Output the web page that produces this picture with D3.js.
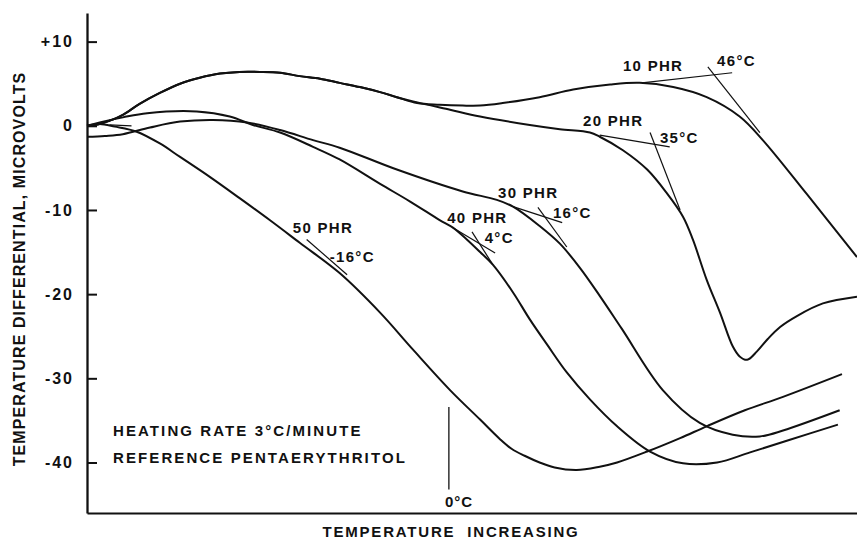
<!DOCTYPE html>
<html>
<head>
<meta charset="utf-8">
<script src="https://cdn.jsdelivr.net/npm/d3@7"></script>
<style>
  html, body { margin: 0; padding: 0; background: #fff; }
  svg { display: block; }
  text { font-family: "Liberation Sans", Arial, sans-serif; font-weight: bold; fill: #111; }
</style>
</head>
<body>
<svg id="chart" width="857" height="541"></svg>
<script>
// DTA traces: [temperature (°C), temperature differential (µV)]
const phr10 = [
  [-62.6, 0], [-60.4, 0.2], [-58.7, 0.6], [-56.4, 1.3], [-53.5, 2.6], [-50.0, 3.9],
  [-46.5, 5.0], [-43.1, 5.7], [-39.6, 6.2], [-36.2, 6.4], [-32.7, 6.4], [-29.2, 6.3],
  [-25.8, 5.9], [-22.3, 5.6], [-18.9, 5.1], [-15.4, 4.6], [-11.9, 4.0], [-9.0, 3.4],
  [-5.5, 2.7], [-1.6, 2.5], [2.4, 2.4], [5.4, 2.4], [9.3, 2.7], [15.7, 3.4],
  [21.5, 4.3], [27.9, 4.9], [33.0, 5.1], [38.8, 4.6], [44.6, 3.4], [50.3, 1.1],
  [54.3, -1.7], [61.9, -8.1], [70.6, -15.6]
];
const phr20 = [
  [-62.6, 0], [-60.4, 0.2], [-58.7, 0.6], [-56.4, 1.3], [-53.5, 2.6], [-50.0, 3.9],
  [-46.5, 5.0], [-43.1, 5.7], [-39.6, 6.2], [-36.2, 6.4], [-32.7, 6.4], [-29.2, 6.3],
  [-25.8, 5.9], [-22.3, 5.6], [-18.9, 5.1], [-15.4, 4.6], [-11.9, 4.0], [-9.0, 3.4],
  [-6.2, 2.9], [0.2, 1.9], [5.4, 1.1], [14.0, 0.1], [19.2, -0.4], [24.4, -0.8],
  [26.1, -1.3], [30.1, -2.9], [34.3, -5.2], [37.7, -8.0], [40.5, -10.8], [42.2, -13.5],
  [44.6, -18.3], [46.9, -22.2], [49.1, -26.2], [50.3, -27.4], [51.6, -27.8], [53.3, -26.8],
  [55.2, -25.3], [57.3, -23.9], [60.2, -22.6], [64.7, -21.1], [70.6, -20.3]
];
const phr30 = [
  [-62.6, -1.3], [-59.5, -1.2], [-56.4, -1.0], [-51.7, -0.2], [-46.5, 0.5], [-40.8, 0.7],
  [-34.9, 0.4], [-29.2, -0.5], [-23.5, -1.7], [-18.9, -2.6], [-9.0, -5.2], [2.4, -7.8],
  [8.3, -8.8], [11.1, -9.6], [15.7, -11.9], [19.2, -14.0], [22.7, -16.9], [26.1, -20.2],
  [29.9, -24.1], [37.0, -31.4], [43.4, -35.3], [49.1, -36.7], [53.8, -36.9], [57.8, -36.2],
  [67.6, -33.8]
];
const phr40 = [
  [-62.6, 0], [-60.4, 0.4], [-56.4, 1.0], [-52.2, 1.5], [-43.6, 1.7], [-37.9, 1.1],
  [-33.9, 0.1], [-29.2, -0.8], [-23.5, -2.5], [-18.9, -4.0], [-11.9, -6.9], [-6.7, -9.0],
  [-1.6, -11.2], [0.7, -12.1], [3.1, -13.5], [5.4, -15.0], [7.6, -16.5], [11.1, -19.8],
  [14.0, -23.0], [17.0, -26.0], [20.4, -29.3], [24.4, -32.5], [29.1, -35.7], [34.8, -38.7],
  [40.5, -40.1], [46.4, -40.0], [52.1, -38.8], [59.0, -37.3], [67.3, -35.5]
];
const phr50 = [
  [-62.6, 0], [-60.4, 0.2], [-57.8, -0.1], [-54.0, -0.7], [-50.0, -2.1], [-46.5, -3.7],
  [-41.3, -6.1], [-36.2, -8.6], [-31.0, -11.2], [-25.8, -13.9], [-18.9, -17.5], [-11.9, -22.2],
  [-6.2, -26.6], [0.2, -31.4], [5.4, -34.9], [8.8, -37.2], [10.9, -38.4], [13.1, -39.2],
  [15.7, -40.0], [18.3, -40.6], [22.1, -40.9], [26.1, -40.5], [29.1, -40.0], [34.3, -38.7],
  [40.0, -37.1], [44.6, -35.7], [51.2, -33.8], [57.8, -32.2], [68.0, -29.5]
];
const traces = [phr10, phr20, phr30, phr40, phr50];

// Tangent constructions marking each transition temperature: [x1, y1, x2, y2]
const tangents = [
  [33.4, 5.1, 49.0, 6.3], [44.8, 7.0, 53.8, -0.8],
  [26.1, -1.1, 38.2, -2.5], [34.8, -0.8, 40.0, -10.0],
  [11.1, -9.6, 19.6, -11.5], [15.4, -9.7, 20.4, -14.4],
  [0.7, -12.1, 8.0, -15.1], [4.0, -12.6, 7.6, -16.5],
  [-24.6, -13.5, -17.6, -17.7]
];
const baselineStub = [-58.7, 0.1, -54.9, 0];

// Labels
const curveLabels = ["10 PHR", "20 PHR", "30 PHR", "40 PHR", "50 PHR"];
const curveLabelAt = [[30.1, 6.5], [23.2, 0], [8.5, -8.55], [-0.3, -11.6], [-27.0, -12.7]];
const tempLabels = ["46°C", "35°C", "16°C", "4°C", "-16°C"];
const tempLabelAt = [[46.4, 7.1], [36.5, -2.0], [18.0, -10.9], [6.2, -13.9], [-20.6, -16.2]];
const yTicks = [10, 0, -10, -20, -30, -40];
const yTickLabels = ["+10", "0", "-10", "-20", "-30", "-40"];
const zeroMark = { temp: 0, from: -33.4, to: -43.2, label: "0°C" };
const notes = ["HEATING RATE 3°C/MINUTE", "REFERENCE PENTAERYTHRITOL"];

const svg = d3.select("#chart");
const x = d3.scaleLinear().domain([-62.6, 70.6]).range([87, 857]);
const y = d3.scaleLinear().domain([-46, 13.4]).range([513, 13]);

// Axes
const yAxis = d3.axisLeft(y)
  .tickValues(yTicks)
  .tickFormat((d, i) => yTickLabels[i])
  .tickSizeInner(-10)
  .tickSizeOuter(0)
  .tickPadding(13);
const gy = svg.append("g").attr("transform", `translate(${x(-62.6)},0)`).call(yAxis);
gy.select(".domain").attr("stroke", "#111").attr("stroke-width", 2.3);
gy.selectAll(".tick line").attr("stroke", "#111").attr("stroke-width", 2);
gy.selectAll(".tick text")
  .attr("font-family", "Liberation Sans, Arial, sans-serif")
  .attr("font-weight", "bold")
  .attr("font-size", 16)
  .attr("letter-spacing", 2)
  .attr("fill", "#111");

const xAxis = d3.axisBottom(x).tickValues([]).tickSizeOuter(0);
const gx = svg.append("g").attr("transform", `translate(0,${y(-46)})`).call(xAxis);
gx.select(".domain").attr("stroke", "#111").attr("stroke-width", 2.2);

// Axis titles
svg.append("text")
  .attr("transform", `translate(25,${(y(13.4) + y(-46)) / 2 + 6}) rotate(-90)`)
  .attr("text-anchor", "middle")
  .attr("font-size", 16)
  .attr("letter-spacing", 1.1)
  .text("TEMPERATURE DIFFERENTIAL, MICROVOLTS");

svg.append("text")
  .attr("x", 451)
  .attr("y", 537)
  .attr("text-anchor", "middle")
  .attr("font-size", 15)
  .attr("letter-spacing", 1.8)
  .attr("word-spacing", 6)
  .text("TEMPERATURE INCREASING");

// Traces
const line = d3.line()
  .x(d => x(d[0]))
  .y(d => y(d[1]))
  .curve(d3.curveCatmullRom.alpha(0.5));

svg.append("g")
  .selectAll("path")
  .data(traces)
  .join("path")
  .attr("d", line)
  .attr("fill", "none")
  .attr("stroke", "#111")
  .attr("stroke-width", 2)
  .attr("stroke-linejoin", "round");

// Tangent construction lines
svg.append("g")
  .selectAll("line")
  .data(tangents.concat([baselineStub]))
  .join("line")
  .attr("x1", d => x(d[0])).attr("y1", d => y(d[1]))
  .attr("x2", d => x(d[2])).attr("y2", d => y(d[3]))
  .attr("stroke", "#111")
  .attr("stroke-width", 1.2);

// 0 °C marker
svg.append("line")
  .attr("x1", x(zeroMark.temp)).attr("x2", x(zeroMark.temp))
  .attr("y1", y(zeroMark.from)).attr("y2", y(zeroMark.to))
  .attr("stroke", "#111").attr("stroke-width", 1.3);
svg.append("text")
  .attr("x", x(zeroMark.temp) - 4)
  .attr("y", y(-45.25))
  .attr("font-size", 15)
  .attr("letter-spacing", 1)
  .text(zeroMark.label);

// Curve and temperature labels
svg.append("g")
  .selectAll("text")
  .data(curveLabels)
  .join("text")
  .attr("x", (d, i) => x(curveLabelAt[i][0]))
  .attr("y", (d, i) => y(curveLabelAt[i][1]))
  .attr("font-size", 15)
  .attr("letter-spacing", 1.3)
  .text(d => d);

svg.append("g")
  .selectAll("text")
  .data(tempLabels)
  .join("text")
  .attr("x", (d, i) => x(tempLabelAt[i][0]))
  .attr("y", (d, i) => y(tempLabelAt[i][1]))
  .attr("font-size", 15)
  .attr("letter-spacing", 1.3)
  .text(d => d);

// Run conditions
svg.append("g")
  .selectAll("text")
  .data(notes)
  .join("text")
  .attr("x", 113)
  .attr("y", (d, i) => 436 + i * 27)
  .attr("font-size", 15)
  .attr("letter-spacing", 2.1)
  .text(d => d);
</script>
</body>
</html>
